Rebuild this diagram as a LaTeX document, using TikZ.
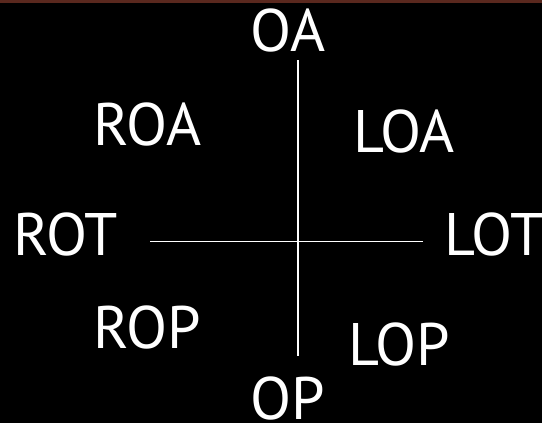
\documentclass[tikz,border=0pt]{standalone}
\usepackage{fontspec}
\setmainfont{PT Sans}
\definecolor{topstrip}{HTML}{5A281E}
\begin{document}
\begin{tikzpicture}[x=1pt,y=-1pt,
  lbl/.style={text=white,inner sep=0pt,anchor=base,font=\fontsize{60}{60}\selectfont},
  axis/.style={draw=white,line width=1.9pt}]
\fill[black] (0,0) rectangle (542,423);
\useasboundingbox (0,0) rectangle (542,423);
\fill[topstrip] (0,0) rectangle (542,3.2);
\node[lbl] (oa) at (288,52) {OA};
\node[lbl] (roa) at (147.5,145) {ROA};
\node[lbl] (loa) at (404,152) {LOA};
\node[lbl] (rot) at (66,255) {ROT};
\node[lbl] (lot) at (494,255) {LOT};
\node[lbl] (rop) at (147.5,348) {ROP};
\node[lbl] (lop) at (399.5,365) {LOP};
\node[lbl] (op) at (287.5,419.5) {OP};
\coordinate (hl) at (150,241.5);
\coordinate (hr) at (423,241.5);
\coordinate (vt) at (298,60);
\coordinate (vb) at (298,355.5);
\draw[axis] (hl) -- (hr);
\draw[axis] (vt) -- (vb);
\end{tikzpicture}
\end{document}
